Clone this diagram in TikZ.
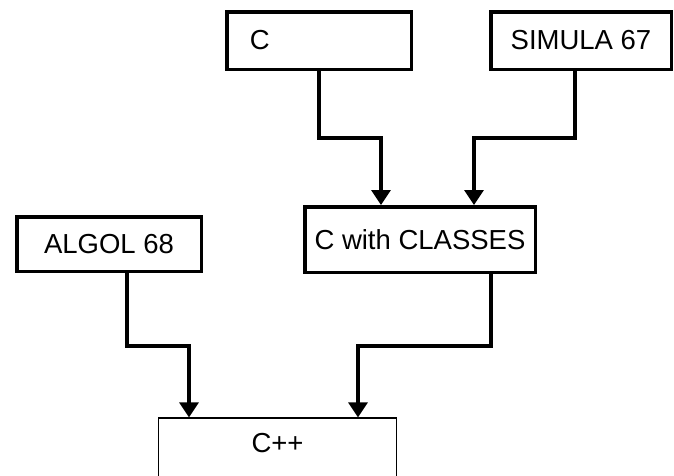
\documentclass[tikz,border=0pt]{standalone}
\usepackage{fontspec}
\setmainfont{Liberation Sans}
\usetikzlibrary{arrows.meta}
\begin{document}
\begin{tikzpicture}[x=1pt,y=-1pt,
  box/.style={draw, line width=3.5pt, fill=white, inner sep=0pt,
    font=\fontsize{27.5}{30}\selectfont},
  conn/.style={line width=3.3pt},
  arr/.style={conn, -{Triangle[width=19pt,length=15pt]}}]
  \useasboundingbox (0,0) rectangle (674,475);
  \clip (0,0) rectangle (674,475);

  % language boxes
  \node[box, minimum width=184.5pt, minimum height=57.5pt,
        text width=138.5pt, align=left] (c) at (319,40.5) {C};
  \node[box, minimum width=180.5pt, minimum height=57.5pt] (sim) at (581,40.5) {SIMULA 67};
  \node[box, minimum width=230.5pt, minimum height=65.5pt] (cwc) at (420,239.5) {C with CLASSES};
  \node[box, minimum width=184.5pt, minimum height=54.5pt] (algol) at (109,244) {ALGOL 68};

  % C++ box, open towards the bottom
  \node[draw, line width=1.2pt, minimum width=238pt, minimum height=90pt,
        inner sep=0pt] (cpp) at (277.5,463) {};
  \node[font=\fontsize{27.5}{30}\selectfont, inner sep=0pt] (cpplabel) at (277.5,443) {C++};

  % bend points
  \coordinate (k1) at (381,138);
  \coordinate (k2) at (474,138);
  \coordinate (k3) at (189,346);
  \coordinate (k4) at (358,346);
  \coordinate (s1) at (575,0);
  \coordinate (s2) at (491,0);
  \coordinate (s3) at (127,0);

  % connectors
  \draw[arr] (c.south) |- (k1) -- (k1 |- cwc.north);
  \draw[arr] (s1 |- sim.south) |- (k2) -- (k2 |- cwc.north);
  \draw[arr] (s3 |- algol.south) |- (k3) -- (k3 |- cpp.north);
  \draw[arr] (s2 |- cwc.south) |- (k4) -- (k4 |- cpp.north);
\end{tikzpicture}
\end{document}
